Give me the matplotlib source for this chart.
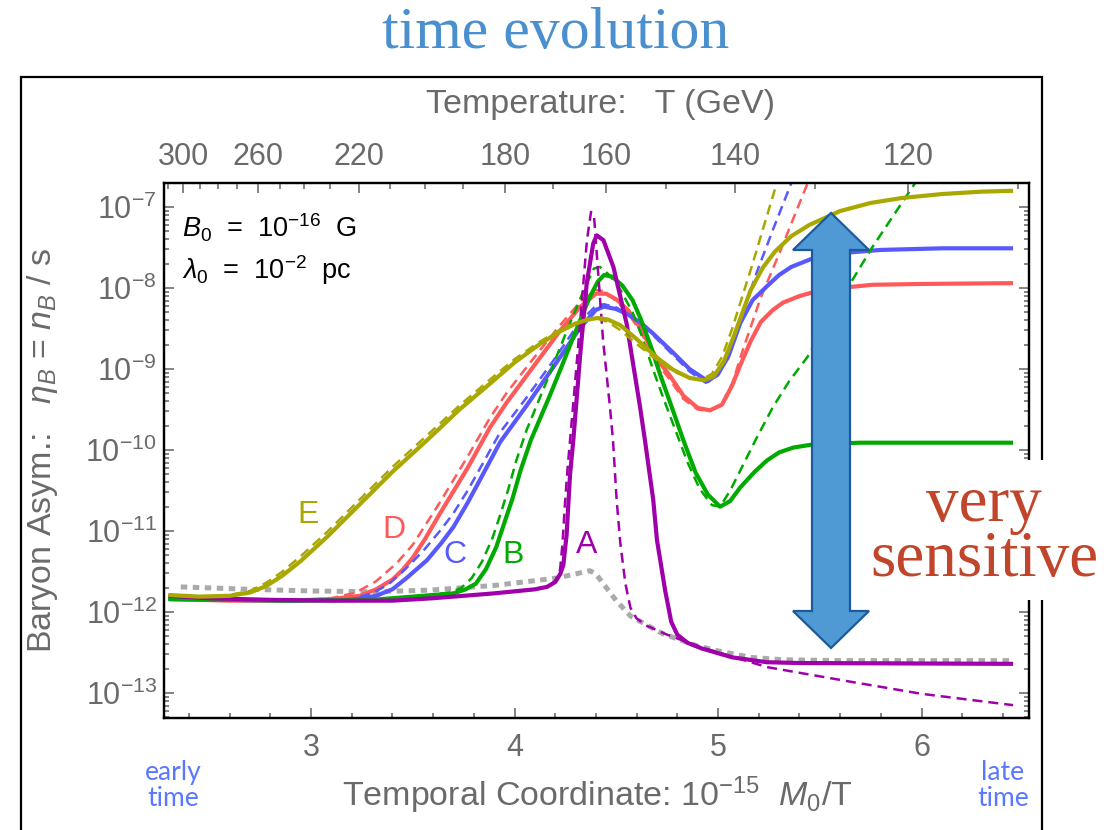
import numpy as np
import matplotlib
matplotlib.use("Agg")
import matplotlib.pyplot as plt
from matplotlib.patches import Polygon, Rectangle
from matplotlib.ticker import FixedLocator, MultipleLocator, LogLocator, NullFormatter

plt.rcParams['font.family'] = ['Liberation Sans', 'DejaVu Sans']
plt.rcParams['mathtext.fontset'] = 'custom'
plt.rcParams['mathtext.rm'] = 'Liberation Sans'
plt.rcParams['mathtext.it'] = 'Liberation Sans:italic'
plt.rcParams['mathtext.bf'] = 'Liberation Sans:bold'

# x = 1e-15 M0/T, values below are log10(eta_B)
xE = [2.30, 2.45, 2.60, 2.70, 2.78, 2.86, 2.95, 3.08, 3.24, 3.40, 3.57, 3.73, 3.88, 4.00, 4.12, 4.22, 4.30, 4.36, 4.41, 4.46,
      4.52, 4.60, 4.70, 4.78, 4.86, 4.93, 4.98, 5.03, 5.08, 5.16, 5.22, 5.28, 5.36, 5.45, 5.60, 5.75, 5.90, 6.10, 6.30, 6.45]
yE = [-11.79, -11.81, -11.80, -11.76, -11.68, -11.55, -11.37, -11.07, -10.67, -10.27, -9.88, -9.50, -9.18, -8.92, -8.70,
      -8.54, -8.44, -8.39, -8.37, -8.39, -8.46, -8.63, -8.86, -9.01, -9.11, -9.14, -9.09, -8.90, -8.58, -8.03, -7.75, -7.55,
      -7.36, -7.22, -7.05, -6.95, -6.89, -6.84, -6.81, -6.80]
xEd = [2.30, 2.45, 2.60, 2.70, 2.78, 2.86, 2.95, 3.08, 3.24, 3.40, 3.57, 3.73, 3.88, 4.00, 4.12, 4.22, 4.30, 4.36, 4.41,
       4.46, 4.52, 4.60, 4.70, 4.78, 4.86, 4.92, 4.97, 5.02, 5.07, 5.12, 5.17, 5.22, 5.28, 5.33]
yEd = [-11.79, -11.81, -11.79, -11.74, -11.64, -11.50, -11.31, -11.01, -10.61, -10.21, -9.82, -9.45, -9.13, -8.88, -8.67,
       -8.52, -8.43, -8.39, -8.38, -8.42, -8.52, -8.69, -8.89, -9.03, -9.11, -9.13, -9.06, -8.85, -8.50, -8.10, -7.70,
       -7.28, -6.78, -6.40]

xD = [2.30, 2.60, 2.90, 3.10, 3.24, 3.32, 3.40, 3.45, 3.50, 3.56, 3.63, 3.77, 3.88, 3.96, 4.09, 4.22, 4.32, 4.40, 4.45,
      4.50, 4.56, 4.62, 4.70, 4.76, 4.83, 4.90, 4.96, 5.02, 5.07, 5.11, 5.16, 5.21, 5.27, 5.32, 5.40, 5.47, 5.60, 5.76,
      6.00, 6.45]
yD = [-11.84, -11.86, -11.86, -11.84, -11.80, -11.72, -11.60, -11.48, -11.33, -11.10, -10.80, -10.22, -9.72, -9.42, -8.98,
      -8.54, -8.24, -8.07, -8.07, -8.14, -8.28, -8.50, -8.88, -9.07, -9.33, -9.48, -9.51, -9.44, -9.20, -8.95, -8.66, -8.42,
      -8.27, -8.18, -8.10, -8.05, -8.00, -7.96, -7.95, -7.94]
xDd = [2.30, 2.90, 3.10, 3.22, 3.32, 3.42, 3.50, 3.63, 3.77, 3.88, 3.96, 4.09, 4.22, 4.32, 4.39, 4.44, 4.50, 4.56, 4.62,
       4.70, 4.76, 4.83, 4.90, 4.96, 5.02, 5.07, 5.12, 5.21, 5.30, 5.43, 5.49]
yDd = [-11.84, -11.86, -11.83, -11.76, -11.62, -11.40, -11.17, -10.66, -10.08, -9.60, -9.30, -8.88, -8.47, -8.18, -8.02,
       -8.04, -8.16, -8.32, -8.54, -8.93, -9.12, -9.37, -9.50, -9.52, -9.42, -9.18, -8.78, -8.12, -7.58, -6.77, -6.40]

xC = [2.30, 2.90, 3.20, 3.32, 3.40, 3.47, 3.57, 3.64, 3.70, 3.77, 3.83, 3.93, 4.06, 4.19, 4.32, 4.40, 4.44, 4.50, 4.56,
      4.62, 4.68, 4.78, 4.86, 4.95, 5.00, 5.05, 5.11, 5.17, 5.24, 5.30, 5.36, 5.47, 5.60, 5.80, 6.10, 6.45]
yC = [-11.84, -11.86, -11.85, -11.80, -11.72, -11.58, -11.36, -11.15, -10.95, -10.65, -10.37, -9.90, -9.45, -8.98, -8.50,
      -8.27, -8.23, -8.26, -8.33, -8.43, -8.56, -8.80, -9.00, -9.15, -9.06, -8.85, -8.43, -8.15, -7.98, -7.84, -7.74, -7.63,
      -7.57, -7.53, -7.51, -7.51]
xCd = [2.30, 2.90, 3.20, 3.30, 3.38, 3.46, 3.55, 3.64, 3.70, 3.77, 3.83, 3.93, 4.06, 4.19, 4.32, 4.40, 4.44, 4.50, 4.56,
       4.62, 4.68, 4.78, 4.86, 4.94, 5.00, 5.05, 5.11, 5.19, 5.27, 5.35, 5.40]
yCd = [-11.84, -11.86, -11.84, -11.77, -11.66, -11.48, -11.25, -10.98, -10.78, -10.50, -10.23, -9.78, -9.35, -8.90, -8.42,
       -8.22, -8.20, -8.24, -8.33, -8.44, -8.58, -8.83, -9.03, -9.17, -9.08, -8.85, -8.40, -7.81, -7.28, -6.77, -6.45]

xB = [2.30, 2.90, 3.30, 3.55, 3.70, 3.76, 3.81, 3.86, 3.91, 3.95, 3.99, 4.03, 4.08, 4.17, 4.23, 4.29, 4.37, 4.41, 4.44,
      4.48, 4.53, 4.58, 4.62, 4.67, 4.72, 4.77, 4.83, 4.89, 4.95, 5.01, 5.06, 5.11, 5.18, 5.24, 5.30, 5.37, 5.47, 5.70, 6.45]
yB = [-11.84, -11.86, -11.85, -11.80, -11.77, -11.72, -11.65, -11.47, -11.20, -10.90, -10.60, -10.25, -9.88, -9.35, -8.98,
      -8.60, -8.11, -7.92, -7.84, -7.86, -7.97, -8.15, -8.38, -8.72, -9.10, -9.45, -9.88, -10.28, -10.55, -10.70, -10.63,
      -10.46, -10.27, -10.13, -10.03, -9.97, -9.93, -9.91, -9.91]
xBd = [2.30, 2.90, 3.30, 3.55, 3.68, 3.74, 3.79, 3.84, 3.89, 3.93, 3.97, 4.01, 4.06, 4.15, 4.27, 4.34, 4.39, 4.42, 4.47,
       4.52, 4.58, 4.63, 4.68, 4.73, 4.79, 4.85, 4.91, 4.97, 5.01, 5.06, 5.11, 5.19, 5.27, 5.35, 5.44, 5.52, 5.60, 5.68,
       5.76, 5.89, 5.97, 6.05]
yBd = [-11.84, -11.86, -11.85, -11.80, -11.76, -11.70, -11.58, -11.38, -11.10, -10.80, -10.48, -10.12, -9.75, -9.20, -8.45,
       -8.03, -7.76, -7.74, -7.85, -8.02, -8.30, -8.62, -9.00, -9.35, -9.75, -10.15, -10.48, -10.68, -10.70, -10.50, -10.25,
       -9.85, -9.47, -9.15, -8.85, -8.50, -8.15, -7.82, -7.49, -7.00, -6.70, -6.40]

xA = [2.30, 2.50, 2.80, 3.10, 3.40, 3.60, 3.90, 4.10, 4.16, 4.20, 4.225, 4.24, 4.256, 4.273, 4.289, 4.322, 4.355, 4.387,
      4.404, 4.437, 4.486, 4.551, 4.617, 4.641, 4.682, 4.70, 4.74, 4.77, 4.80, 4.85, 4.92, 5.07, 5.24, 5.40, 6.45]
yA = [-11.80, -11.83, -11.85, -11.86, -11.86, -11.83, -11.77, -11.72, -11.69, -11.63, -11.53, -11.42, -11.05, -10.30,
      -9.88, -8.85, -7.94, -7.45, -7.35, -7.41, -7.74, -8.44, -9.47, -9.88, -10.62, -11.11, -11.73, -12.12, -12.28, -12.38,
      -12.45, -12.56, -12.62, -12.63, -12.64]
xAd = [2.30, 2.50, 2.80, 3.10, 3.40, 3.60, 3.90, 4.10, 4.16, 4.20, 4.224, 4.236, 4.248, 4.26, 4.273, 4.30, 4.322, 4.356,
       4.376, 4.391, 4.411, 4.435, 4.469, 4.484, 4.502, 4.52, 4.545, 4.57, 4.60, 4.65, 4.75, 4.91, 5.24, 5.65, 6.00, 6.45]
yAd = [-11.80, -11.83, -11.85, -11.86, -11.86, -11.83, -11.77, -11.72, -11.69, -11.62, -11.48, -11.15, -10.66, -10.25,
       -9.88, -9.10, -8.43, -7.41, -7.06, -7.12, -7.81, -8.64, -9.47, -9.88, -10.62, -11.15, -11.65, -11.95, -12.08, -12.17,
       -12.28, -12.43, -12.68, -12.86, -13.01, -13.15]

xG = [2.36, 2.70, 3.00, 3.30, 3.585, 3.91, 4.21, 4.37, 4.40, 4.50, 4.57, 4.73, 4.90, 5.00, 5.16, 5.32, 5.60, 6.45]
yG = [-11.69, -11.72, -11.74, -11.75, -11.73, -11.67, -11.58, -11.49, -11.53, -11.86, -12.05, -12.27, -12.42, -12.48,
      -12.56, -12.59, -12.60, -12.60]

T_major = [300, 260, 220, 180, 160, 140, 120]
T_minor = [310, 290, 280, 270, 250, 240, 230, 210, 200, 190, 170, 150, 130, 110]
M0 = 712.0  # 1e-15 M0 in GeV

W, H = 1114, 830
GRAY = '#6a6a6a'
cE, cD, cC, cB, cA, cG = '#a9a800', '#ff5a5a', '#5858ff', '#00aa00', '#a000aa', '#aaaaaa'


def fp(x, y):
    return (x / W, 1 - y / H)


fig = plt.figure(figsize=(W / 100, H / 100), dpi=100)
fig.patch.set_facecolor('white')
ax = fig.add_axes([164 / W, 1 - 718 / H, (1029 - 164) / W, (718 - 183) / H])
ax.set_yscale('log')

dash = dict(lw=1.8, ls=(0, (4.0, 2.4)))
solid = dict(lw=3.0, solid_capstyle='butt', solid_joinstyle='round')
ax.plot(xG, 10 ** np.array(yG), color=cG, lw=3.6, ls=(0, (1.3, 1.1)))
for xs, ys, xd, yd, c in [(xD, yD, xDd, yDd, cD), (xC, yC, xCd, yCd, cC), (xB, yB, xBd, yBd, cB),
                          (xA, yA, xAd, yAd, cA), (xE, yE, xEd, yEd, cE)]:
    ax.plot(xd, 10 ** np.array(yd), color=c, **dash)
    ax.plot(xs, 10 ** np.array(ys), color=c, **solid)

ax.set_xlim(3 + (164 - 311) / 203.5, 3 + (1029 - 311) / 203.5)
ax.set_ylim(10 ** (-13 - 25 / 81), 10 ** (-7 + 24 / 81))

ax.xaxis.set_major_locator(FixedLocator([3, 4, 5, 6]))
ax.xaxis.set_minor_locator(MultipleLocator(0.2))
ax.yaxis.set_major_locator(FixedLocator([10.0 ** k for k in range(-13, -6)]))
ax.yaxis.set_minor_locator(LogLocator(base=10, subs=np.arange(2, 10)))
ax.yaxis.set_minor_formatter(NullFormatter())
ax.set_xticklabels(['3', '4', '5', '6'])
ax.set_yticklabels([r'$10^{%d}$' % k for k in range(-13, -6)])
ax.tick_params(which='both', direction='in', top=False, right=True, color='#7a7a7a', width=1.3,
               labelcolor=GRAY, labelsize=22)
ax.tick_params(which='major', length=7)
ax.tick_params(which='minor', length=3.5)
ax.tick_params(axis='x', pad=11)
ax.tick_params(axis='y', pad=5)
for s in ax.spines.values():
    s.set_linewidth(1.6)

ax2 = ax.twiny()
ax2.set_xlim(ax.get_xlim())
ax2.xaxis.set_major_locator(FixedLocator([M0 / t for t in T_major]))
ax2.xaxis.set_minor_locator(FixedLocator([M0 / t for t in T_minor]))
ax2.set_xticklabels([str(t) for t in T_major])
ax2.tick_params(which='both', direction='in', color='#7a7a7a', width=1.3, labelcolor=GRAY, labelsize=22, pad=8)
ax2.tick_params(which='major', length=7)
ax2.tick_params(which='minor', length=4)
for s in ax2.spines.values():
    s.set_linewidth(1.6)

# axis labels
fig.text(*fp(597, 795), r'Temporal Coordinate: $10^{-15}$  $M_0$/T', color=GRAY, fontsize=24.5,
         ha='center', va='center')
fig.text(*fp(601, 105), 'Temperature:   T (GeV)', color=GRAY, fontsize=24.5, ha='center', va='center')
fig.text(*fp(43, 450), r'Baryon Asym.:   $\eta_B$ = $n_B$ / s', color=GRAY, fontsize=24.5, ha='center', va='center',
         rotation=90)

fig.text(*fp(182, 228), r'$B_0$  =  $10^{-16}$  G', color='black', fontsize=19.5, ha='left', va='center')
fig.text(*fp(182, 270), r'$\lambda_0$  =  $10^{-2}$  pc', color='black', fontsize=19.5, ha='left', va='center')

for lab, px, py, c in [('E', 308, 515, cE), ('D', 394, 530, cD), ('C', 455, 555, cC), ('B', 513, 555, cB),
                       ('A', 587, 545, cA)]:
    fig.text(*fp(px, py), lab, color=c, fontsize=23, ha='center', va='center')

# outer frame
fig.add_artist(Rectangle(fp(21, 900), (1042 - 21) / W, (900 - 77) / H, transform=fig.transFigure,
                         fill=False, edgecolor='black', lw=1.6, zorder=1))

# double arrow
cx, top, bot, hl, hw, sw = 831, 213, 648, 37, 38, 19
pts = [(cx, top), (cx + hw, top + hl), (cx + sw, top + hl), (cx + sw, bot - hl), (cx + hw, bot - hl), (cx, bot),
       (cx - hw, bot - hl), (cx - sw, bot - hl), (cx - sw, top + hl), (cx - hw, top + hl)]
fig.add_artist(Polygon([fp(px, py) for px, py in pts], closed=True, transform=fig.transFigure,
                       facecolor='#4f9ad4', edgecolor='#1d5a9c', lw=1.6, zorder=2))

fig.add_artist(Rectangle(fp(858, 600), (W - 858) / W, 140 / H, transform=fig.transFigure,
                         facecolor='white', edgecolor='none', zorder=3))
fig.text(*fp(984, 533), 'very\nsensitive', color='#c0452a', fontsize=47, family='Liberation Serif',
         ha='center', va='center', linespacing=0.9, zorder=4)

fig.text(*fp(556, 34), 'time evolution', color='#4a8fce', fontsize=43, family='Liberation Serif',
         ha='center', va='center')

fig.text(*fp(173, 785), 'early\ntime', color='#5a78ff', fontsize=19, family='Lato', ha='center', va='center',
         linespacing=1.05)
fig.text(*fp(1003, 785), 'late\ntime', color='#5a78ff', fontsize=19, family='Lato', ha='center', va='center',
         linespacing=1.05)

fig.savefig('out.png', dpi=100)
